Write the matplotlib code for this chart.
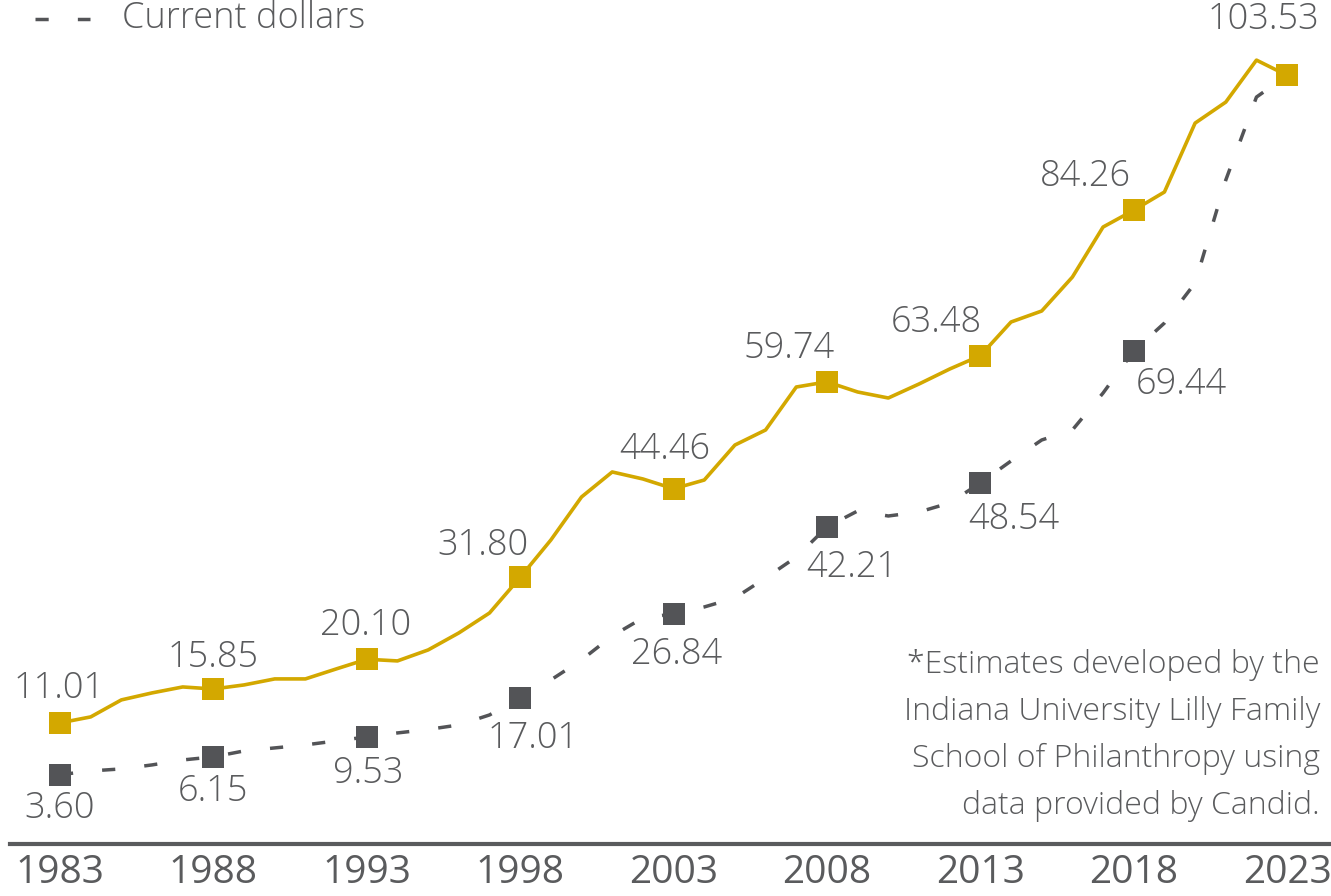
import numpy as np
import matplotlib.pyplot as plt
from matplotlib.lines import Line2D

# giving estimates, billions of dollars
years = list(range(1983, 2024))
adjusted = [11.01, 11.86, 14.29, 15.29, 16.14, 15.85, 16.43, 17.29, 17.29, 18.71,
            20.10, 19.86, 21.43, 23.86, 26.71, 31.80, 37.14, 43.29, 46.86, 45.86,
            44.46, 45.71, 50.71, 52.86, 59.00, 59.74, 58.29, 57.43, 59.43, 61.57,
            63.48, 68.29, 69.86, 74.71, 81.86, 84.26, 86.86, 96.71, 99.71, 105.71,
            103.53]
current = [3.60, 4.14, 4.43, 5.00, 5.71, 6.15, 7.00, 7.43, 7.86, 8.43,
           9.00, 9.57, 10.07, 10.71, 12.14, 14.57, 17.14, 20.00, 23.43, 26.00,
           26.57, 27.57, 28.86, 31.71, 34.71, 39.00, 41.29, 40.57, 41.14, 42.43,
           45.29, 48.43, 51.43, 52.86, 58.14, 64.14, 68.14, 73.86, 88.57, 100.43,
           103.53]
marker_years = [1983, 1988, 1993, 1998, 2003, 2008, 2013, 2018, 2023]
adjusted_labels = ["11.01", "15.85", "20.10", "31.80", "44.46", "59.74", "63.48", "84.26", "103.53"]
current_labels = ["3.60", "6.15", "9.53", "17.01", "26.84", "42.21", "48.54", "69.44"]

# label offsets in points (dx, dy)
adj_off = [(-1, 25), (0, 23), (-1, 24), (-27, 23), (-6, 28), (-27, 24), (-32, 24), (-35, 24), (-17, 40)]
cur_off = [(0, -24), (0, -25), (1, -26), (9, -29), (2, -29), (18, -29), (24, -26), (34, -24)]

gold = "#D3A800"
grey = "#535457"
txt = "#5A5B5D"

plt.rcParams['font.family'] = ['Open Sans', 'DejaVu Sans']

fig = plt.figure(figsize=(13.31, 8.96), dpi=100)
ax = fig.add_axes([10 / 1331, 52 / 896, 1321 / 1331, 844 / 896])
ax.set_xlim(1981.37, 2024.43)
ax.set_ylim(-6.3, 114.3)

idx = [years.index(y) for y in marker_years]

ax.plot(years, current, color=grey, lw=2.5, dashes=(3.8, 8.4), zorder=2)
ax.plot(marker_years, [current[i] for i in idx], ls='none', marker='s', ms=16.5,
        mew=0, color=grey, zorder=3)
ax.plot(years, adjusted, color=gold, lw=2.6, zorder=4)
ax.plot(marker_years, [adjusted[i] for i in idx], ls='none', marker='s', ms=16.5,
        mew=0, color=gold, zorder=5)

for i, lab, off in zip(idx, adjusted_labels, adj_off):
    ax.annotate(lab, (years[i], adjusted[i]), xytext=off, textcoords='offset points',
                ha='center', va='center', fontsize=26, fontweight='light', color=txt)
for i, lab, off in zip(idx, current_labels, cur_off):
    ax.annotate(lab, (years[i], current[i]), xytext=off, textcoords='offset points',
                ha='center', va='center', fontsize=26, fontweight='light', color=txt)

for s in ['top', 'right', 'left']:
    ax.spines[s].set_visible(False)
ax.spines['bottom'].set_color(txt)
ax.spines['bottom'].set_linewidth(3)
ax.set_yticks([])
ax.set_xticks(marker_years)
ax.set_xticklabels([str(y) for y in marker_years], fontsize=28, color=txt)
ax.tick_params(axis='x', length=0, pad=7)

# legend entry at the top
fig.add_artist(Line2D([35 / 1331, 90 / 1331], [1 - 19 / 896, 1 - 19 / 896],
                      transform=fig.transFigure, color=grey, lw=2.5, dashes=(3.8, 8.4)))
fig.text(122 / 1331, 1 - 18 / 896, "Current dollars", ha='left', va='center',
         fontsize=26, fontweight='light', color=txt)

note = ["*Estimates developed by the", "Indiana University Lilly Family",
        "School of Philanthropy using", "data provided by Candid."]
for k, line in enumerate(note):
    fig.text(1320 / 1331, 1 - (665 + 47 * k) / 896, line, ha='right', va='center',
             fontsize=23, fontweight='light', color=txt)

fig.savefig("out.png", dpi=100)
